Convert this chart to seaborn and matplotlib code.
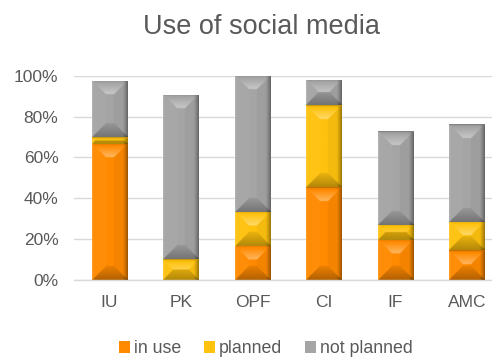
import numpy as np
import pandas as pd
import matplotlib
matplotlib.use("Agg")
import matplotlib.pyplot as plt
import seaborn as sns
from matplotlib.patches import Patch
from matplotlib.ticker import FuncFormatter

# Survey: use of social media per institution (percent of respondents)
categories = ["IU", "PK", "OPF", "CI", "IF", "AMC"]
in_use = [66.6, 0.0, 16.7, 45.5, 19.6, 14.5]
planned = [3.2, 10.1, 16.7, 40.0, 7.5, 14.0]
not_planned = [27.6, 80.3, 66.6, 12.4, 46.0, 47.7]
series = ["in use", "planned", "not planned"]
yticks = [0, 20, 40, 60, 80, 100]

colors = {"in use": "#FF8A00", "planned": "#FFC20E", "not planned": "#A5A5A5"}
text_color = "#595959"
grid_color = "#D9D9D9"

df = pd.DataFrame({"category": categories, "in use": in_use,
                   "planned": planned, "not planned": not_planned})

sns.set_style("white")
plt.rcParams["font.family"] = ["Liberation Sans", "DejaVu Sans"]

fig = plt.figure(figsize=(4.92, 3.58), dpi=100)
ax = fig.add_axes([73.75 / 492, 78 / 358, 429 / 492, 204.3 / 358])

bottom = np.zeros(len(categories))
for name in series:
    sns.barplot(data=df, x="category", y=name, color=colors[name], width=0.5,
                bottom=bottom, errorbar=None, saturation=1, linewidth=0, ax=ax)
    bottom = bottom + df[name].to_numpy()

ax.set_xlim(-0.5, len(categories) - 0.5)
ax.set_ylim(0, 100)
ax.set_yticks(yticks)
ax.yaxis.set_major_formatter(FuncFormatter(lambda v, _: f"{v:.0f}%"))
ax.set_xlabel("")
ax.set_ylabel("")
ax.yaxis.grid(True, color=grid_color, linewidth=1.0)
ax.xaxis.grid(False)
ax.set_axisbelow(True)
for side in ["top", "right", "left"]:
    ax.spines[side].set_visible(False)
ax.spines["bottom"].set_color(grid_color)
ax.spines["bottom"].set_linewidth(1.0)
ax.tick_params(axis="y", length=0, pad=11, labelsize=12.5, labelcolor=text_color)
ax.tick_params(axis="x", length=0, pad=10.5, labelsize=12.5, labelcolor=text_color)


def bevel_texture(rgb, w, h, depth=14.0, scale=3):
    """Beveled face: lit top facet, shaded bottom facet, dark right rim."""
    W = max(int(round(w * scale)), 1)
    H = max(int(round(h * scale)), 1)
    X, Y = np.meshgrid((np.arange(W) + 0.5) / scale, (np.arange(H) + 0.5) / scale)
    dl, dr, dt, db = X, w - X, Y, h - Y
    d = np.stack([dt, db, dl, dr])
    idx = d.argmin(0)
    m = d.min(0)
    t = np.clip(m / depth, 0, 1)
    inside = m < depth
    shade = np.zeros((H, W))
    top = inside & (idx == 0)
    bot = inside & (idx == 1)
    left = inside & (idx == 2)
    right = inside & (idx == 3)
    shade[top] = -0.1 + 0.48 * t[top]
    shade[bot] = -(0.3 - 0.22 * t[bot])
    shade[left] = 0.03
    shade[right] = -0.04
    rim = np.clip(1 - dr / 5.5, 0, 1)
    shade = shade - 0.38 * rim ** 1.3
    shade[dl < 1.2] += 0.1
    shade[dt < 1.0] = -0.22
    base = np.array(rgb)[None, None, :]
    s = shade[..., None]
    img = np.where(s >= 0, base + (1 - base) * s, base * (1 + s))
    return np.clip(img, 0, 1)


fig.canvas.draw()
for patch in list(ax.patches):
    x0, y0 = patch.get_x(), patch.get_y()
    w, h = patch.get_width(), patch.get_height()
    if h <= 0:
        continue
    p0 = ax.transData.transform((x0, y0))
    p1 = ax.transData.transform((x0 + w, y0 + h))
    img = bevel_texture(patch.get_facecolor()[:3], p1[0] - p0[0], p1[1] - p0[1])
    im = ax.imshow(img, extent=(x0, x0 + w, y0, y0 + h), origin="upper",
                   aspect="auto", interpolation="bilinear", zorder=patch.get_zorder() + 0.1)
    im.set_clip_path(patch)

ax.set_xlim(-0.5, len(categories) - 0.5)
ax.set_ylim(0, 100)

fig.text(261.5 / 492, (358 - 34.3) / 358, "Use of social media", ha="center",
         va="baseline", fontsize=19.5, color=text_color)

handles = [Patch(facecolor=colors[n], edgecolor="none", label=n) for n in series]
fig.legend(handles=handles, loc="center", bbox_to_anchor=(266 / 492, 9.5 / 358), ncol=3,
           frameon=False, fontsize=12.8, labelcolor=text_color, handlelength=0.62,
           handleheight=0.62, handletextpad=0.2, columnspacing=1.3, borderpad=0)

fig.savefig("out.png", dpi=100)
